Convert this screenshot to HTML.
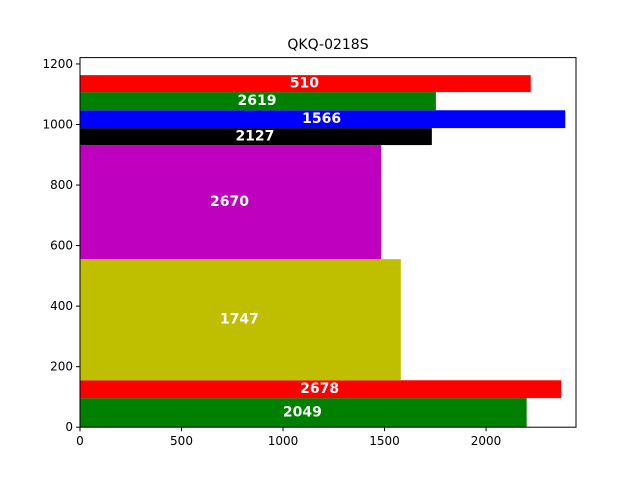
<!DOCTYPE html>
<html><head><meta charset="utf-8"><style>
body{margin:0;background:#fff}
svg text{font-family:"DejaVu Sans","Liberation Sans",sans-serif}
</style></head><body>
<svg id="chart" width="640" height="480" xmlns="http://www.w3.org/2000/svg">
<rect width="640" height="480" fill="#fff"/>
<text x="328" y="49" text-anchor="middle" font-size="14">QKQ-0218S</text>
<g id="bars"></g>
<g id="axes"></g>
</svg>
<script>
const bottoms=[0,96,155,555,932,988,1047,1107];
const heights=[96,59,400,377,56,59,60,56];
const widths=[2200,2370,1580,1483,1733,2390,1753,2220];
const colors=['#008000','#ff0000','#bfbf00','#bf00bf','#000000','#0000ff','#008000','#ff0000'];
const labels=['2049','2678','1747','2670','2127','1566','2619','510'];
const xTicks=[0,500,1000,1500,2000];
const yTicks=[0,200,400,600,800,1000,1200];
const L=80,R=576,T=57.6,B=427.2,XMAX=2443,YMAX=1221;
const sx=v=>L+v/XMAX*(R-L);
const sy=v=>B-v/YMAX*(B-T);
const NS='http://www.w3.org/2000/svg';
function mk(tag,attrs,parent){const e=document.createElementNS(NS,tag);for(const k in attrs)e.setAttribute(k,attrs[k]);parent.appendChild(e);return e;}
const bars=document.getElementById('bars'),axes=document.getElementById('axes');
for(let i=0;i<widths.length;i++){
 const y0=sy(bottoms[i]+heights[i]),y1=sy(bottoms[i]);
 const r=mk('rect',{x:sx(0),y:y0,width:sx(widths[i])-sx(0),height:y1-y0,fill:colors[i]},bars);
 
 
 const t=mk('text',{x:(sx(0)+sx(widths[i]))/2-1,y:(y0+y1)/2+4,'text-anchor':'middle','font-size':'14','font-weight':'bold',fill:'#fff'},bars);
 t.textContent=labels[i];
 
 
}
const frame=mk('rect',{x:L,y:T,width:R-L,height:B-T,fill:'none',stroke:'#000','stroke-width':1},axes);


xTicks.forEach(v=>{
 const x=sx(v);
 const l=mk('line',{x1:x,x2:x,y1:B,y2:B+4,stroke:'#000'},axes);
 
 
 const t=mk('text',{x:x,y:B+18,'text-anchor':'middle','font-size':'12'},axes);
 t.textContent=v;
 
 
});
yTicks.forEach(v=>{
 const y=sy(v);
 const l=mk('line',{x1:L-4,x2:L,y1:y,y2:y,stroke:'#000'},axes);
 
 
 const t=mk('text',{x:L-7,y:y+4,'text-anchor':'end','font-size':'12'},axes);
 t.textContent=v;
 
 
});
</script>
</body></html>
